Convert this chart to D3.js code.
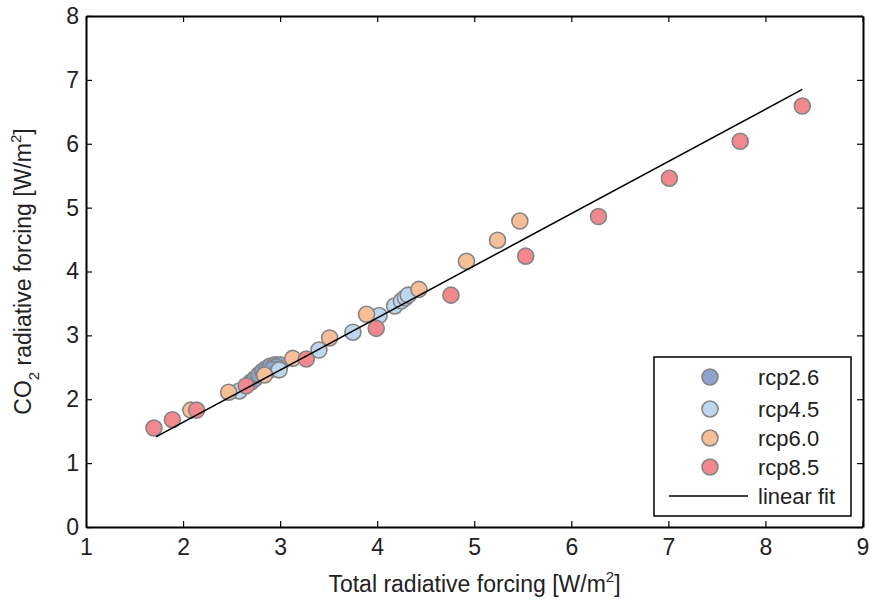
<!DOCTYPE html>
<html>
<head>
<meta charset="utf-8">
<script src="https://cdn.jsdelivr.net/npm/d3@7"></script>
<style>
  body { margin: 0; background: #fff; }
  text { font-family: "Liberation Sans", Arial, sans-serif; fill: #222; }
</style>
</head>
<body>
<div id="chart"></div>
<script>
// values (total forcing, CO2 forcing)
const rcp26 = [
  [2.70, 2.27], [2.74, 2.32], [2.78, 2.38], [2.82, 2.44], [2.86, 2.48],
  [2.90, 2.52], [2.95, 2.54], [3.00, 2.54], [2.96, 2.51], [2.92, 2.47]
]
const rcp45 = [
  [2.58, 2.13], [2.99, 2.46], [3.40, 2.77], [3.75, 3.05], [4.02, 3.31],
  [4.18, 3.46], [4.25, 3.54], [4.29, 3.59], [4.32, 3.63]
]
const rcp60 = [
  [2.08, 1.83], [2.47, 2.11], [2.84, 2.38], [3.13, 2.64], [3.51, 2.96],
  [3.89, 3.33], [4.43, 3.72], [4.92, 4.16], [5.24, 4.49], [5.47, 4.79]
]
const rcp85 = [
  [1.70, 1.55], [1.89, 1.68], [2.14, 1.83], [2.65, 2.21], [3.27, 2.63],
  [3.99, 3.11], [4.76, 3.63], [5.53, 4.24], [6.28, 4.86], [7.01, 5.46],
  [7.74, 6.04], [8.38, 6.59]
]
const fitLine = [[1.72, 1.41], [8.38, 6.85]]

const scenarios = ["rcp2.6", "rcp4.5", "rcp6.0", "rcp8.5"]
const seriesData = [rcp26, rcp45, rcp60, rcp85]
const xTicks = [1, 2, 3, 4, 5, 6, 7, 8, 9]
const yTicks = [0, 1, 2, 3, 4, 5, 6, 7, 8]

const colors = ["#8da2cc", "#bdd7ee", "#f6bf97", "#f0888e"]

let dimensions = {
  width: 871,
  height: 600,
  margin: { top: 16, right: 8, bottom: 73, left: 86 },
}
dimensions.boundedWidth = dimensions.width - dimensions.margin.left - dimensions.margin.right
dimensions.boundedHeight = dimensions.height - dimensions.margin.top - dimensions.margin.bottom

const svg = d3.select("#chart")
  .append("svg")
    .attr("width", dimensions.width)
    .attr("height", dimensions.height)

const bounds = svg.append("g")
  .attr("transform", `translate(${dimensions.margin.left},${dimensions.margin.top})`)

// scales
const xScale = d3.scaleLinear()
  .domain([1, 9])
  .range([0, dimensions.boundedWidth - 0.5])
const yScale = d3.scaleLinear()
  .domain([0, 8])
  .range([dimensions.boundedHeight, 0])

// axes (ticks inside, mirrored like a boxed plot)
const tickLen = 6
const xAxis = bounds.append("g")
  .attr("transform", `translate(0,${dimensions.boundedHeight})`)
  .call(d3.axisBottom(xScale).tickValues(xTicks).tickSizeInner(-tickLen).tickSizeOuter(0).tickPadding(11))
const xAxisTop = bounds.append("g")
  .call(d3.axisTop(xScale).tickValues(xTicks).tickSizeInner(-tickLen).tickSizeOuter(0).tickFormat(""))
const yAxis = bounds.append("g")
  .call(d3.axisLeft(yScale).tickValues(yTicks).tickSizeInner(-tickLen).tickSizeOuter(0).tickPadding(7))
const yAxisRight = bounds.append("g")
  .attr("transform", `translate(${dimensions.boundedWidth},0)`)
  .call(d3.axisRight(yScale).tickValues(yTicks).tickSizeInner(-tickLen).tickSizeOuter(0).tickFormat(""))

bounds.selectAll(".domain").attr("stroke", "#000").attr("stroke-width", 2)
bounds.selectAll(".tick line").attr("stroke", "#000").attr("stroke-width", 1.2)
bounds.selectAll(".tick text")
  .style("font-size", "23px")
  .style("font-family", "'Liberation Sans', Arial, sans-serif")
  .attr("fill", "#222")
xAxis.selectAll(".tick text").attr("dy", "0.75em")

// data
const radius = 8
seriesData.forEach((series, i) => {
  bounds.append("g")
    .selectAll("circle")
    .data(series)
    .join("circle")
      .attr("cx", d => xScale(d[0]))
      .attr("cy", d => yScale(d[1]))
      .attr("r", radius)
      .attr("fill", colors[i])
      .attr("stroke", "#858585")
      .attr("stroke-width", 1.6)
})

// linear fit
const lineGenerator = d3.line()
  .x(d => xScale(d[0]))
  .y(d => yScale(d[1]))
bounds.append("path")
  .attr("d", lineGenerator(fitLine))
  .attr("fill", "none")
  .attr("stroke", "#000")
  .attr("stroke-width", 1.5)

// legend
const legend = svg.append("g")
  .attr("transform", "translate(654,357)")
legend.append("rect")
  .attr("width", 197)
  .attr("height", 159)
  .attr("fill", "#fff")
  .attr("stroke", "#000")
  .attr("stroke-width", 1.5)
const rowY = [20, 52, 81, 110, 139]
scenarios.forEach((name, i) => {
  legend.append("circle")
    .attr("cx", 56)
    .attr("cy", rowY[i])
    .attr("r", radius)
    .attr("fill", colors[i])
    .attr("stroke", "#858585")
    .attr("stroke-width", 1.6)
  legend.append("text")
    .attr("x", 104)
    .attr("y", rowY[i])
    .attr("dy", "0.35em")
    .style("font-size", "22px")
    .text(name)
})
legend.append("line")
  .attr("x1", 15).attr("x2", 94)
  .attr("y1", rowY[4]).attr("y2", rowY[4])
  .attr("stroke", "#000")
  .attr("stroke-width", 1.5)
legend.append("text")
  .attr("x", 104)
  .attr("y", rowY[4])
  .attr("dy", "0.35em")
  .style("font-size", "22px")
  .text("linear fit")

// axis labels
const xLabel = svg.append("text")
  .attr("x", dimensions.margin.left + dimensions.boundedWidth / 2)
  .attr("y", 592)
  .attr("text-anchor", "middle")
  .style("font-size", "23px")
xLabel.append("tspan").text("Total radiative forcing [W/m")
xLabel.append("tspan").attr("dy", -10).style("font-size", "15px").text("2")
xLabel.append("tspan").attr("dy", 10).text("]")

const yLabel = svg.append("text")
  .attr("transform", `translate(31,${dimensions.margin.top + dimensions.boundedHeight / 2}) rotate(-90)`)
  .attr("text-anchor", "middle")
  .style("font-size", "23px")
yLabel.append("tspan").text("CO")
yLabel.append("tspan").attr("dy", 8).style("font-size", "15px").text("2")
yLabel.append("tspan").attr("dy", -8).text(" radiative forcing [W/m")
yLabel.append("tspan").attr("dy", -10).style("font-size", "15px").text("2")
yLabel.append("tspan").attr("dy", 10).text("]")
</script>
</body>
</html>
